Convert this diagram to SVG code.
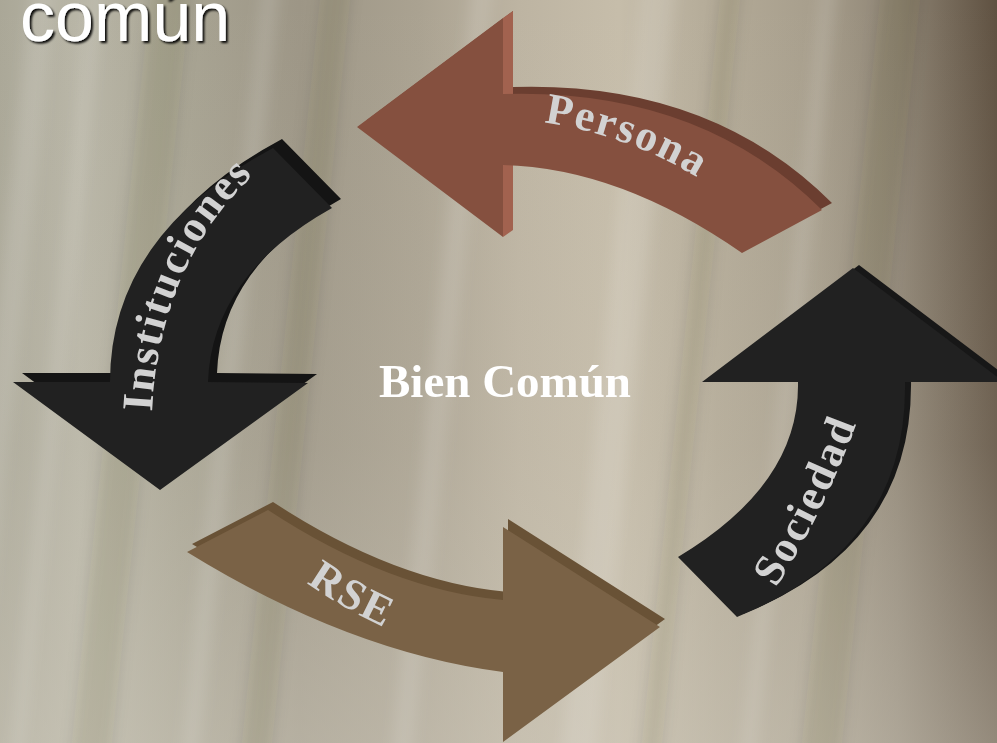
<svg xmlns="http://www.w3.org/2000/svg" width="997" height="743" viewBox="0 0 997 743">
<defs>
<linearGradient id="bg" x1="0" y1="0" x2="1" y2="0">
<stop offset="0" stop-color="#aaa797"/>
<stop offset="0.08" stop-color="#b9b6a7"/>
<stop offset="0.18" stop-color="#a8a493"/>
<stop offset="0.3" stop-color="#9d9686"/>
<stop offset="0.42" stop-color="#aaa291"/>
<stop offset="0.52" stop-color="#bdb4a2"/>
<stop offset="0.62" stop-color="#c6bdaa"/>
<stop offset="0.72" stop-color="#b3aa97"/>
<stop offset="0.82" stop-color="#a79e8c"/>
<stop offset="0.9" stop-color="#8e8474"/>
<stop offset="1" stop-color="#5f5141"/>
</linearGradient>
<linearGradient id="low" x1="0" y1="0" x2="0" y2="1">
<stop offset="0" stop-color="#d4cfc2" stop-opacity="0"/>
<stop offset="0.6" stop-color="#d4cfc2" stop-opacity="0.15"/>
<stop offset="1" stop-color="#d4cfc2" stop-opacity="0.45"/>
</linearGradient>
<filter id="soft" x="-10%" y="-10%" width="120%" height="120%">
<feGaussianBlur stdDeviation="7"/>
</filter>
<filter id="shadow" x="-10%" y="-20%" width="130%" height="150%">
<feDropShadow dx="2" dy="2" stdDeviation="1" flood-color="#000" flood-opacity="0.95"/>
</filter>
<style>
.lbl{font-family:"Liberation Serif","Times New Roman",serif;font-weight:bold;font-size:44px;fill:#d2d2d2;letter-spacing:2px}
.title{font-family:"Liberation Sans",Arial,sans-serif;font-size:70px;fill:#ffffff}
.center{font-family:"Liberation Serif","Times New Roman",serif;font-weight:bold;font-size:47px;fill:#ffffff}
.streak{fill:#ffffff;opacity:0.12}
.dstreak{fill:#3a3020;opacity:0.1}
</style>
<path id="pPersona" d="M540,122 Q650,137 740,207"/>
<path id="pInst" d="M152,412 Q160,245 282,150"/>
<path id="pSoc" d="M776,588 Q833,498 868,390"/>
<path id="pRSE" d="M292,572 Q344,612 409,638"/>
</defs>
<g id="background">
<rect width="997" height="743" fill="url(#bg)"/>
<rect width="997" height="743" fill="url(#low)"/>
<g transform="skewX(-6)" filter="url(#soft)">
<rect class="streak" x="30" y="-20" width="25" height="790"/>
<rect class="streak" x="90" y="-20" width="12" height="790"/>
<rect class="dstreak" x="150" y="-20" width="40" height="790"/>
<rect class="streak" x="260" y="-20" width="18" height="790"/>
<rect class="dstreak" x="320" y="-20" width="30" height="790"/>
<rect class="streak" x="470" y="-20" width="22" height="790"/>
<rect class="streak" x="640" y="-20" width="35" height="790"/>
<rect class="dstreak" x="720" y="-20" width="20" height="790"/>
<rect class="streak" x="820" y="-20" width="15" height="790"/>
<rect class="dstreak" x="880" y="-20" width="40" height="790"/>
</g>
</g>
<g id="title">
<text class="title" x="20" y="41" filter="url(#shadow)">común</text>
</g>
<g id="connectors">
<g id="persona">
<path d="M357,127 L503,18 L503,94 Q700,88 822,210 L742,253 Q620,168 503,165 L503,237 Z" fill="#6b3e30" transform="translate(10,-7)"/>
<polygon points="503,18 513,11 513,230 503,237" fill="#a2624f"/>
<path d="M357,127 L503,18 L503,94 Q700,88 822,210 L742,253 Q620,168 503,165 L503,237 Z" fill="#85503f"/>
<text class="lbl"><textPath href="#pPersona" startOffset="4">Persona</textPath></text>
</g>
<g id="instituciones">
<path d="M13,382 L110,382 Q110,235 273,148 L332,208 Q212,275 208,382 L308,383 L160,490 Z" fill="#141414" transform="translate(9,-9)"/>
<path d="M13,382 L110,382 Q110,235 273,148 L332,208 Q212,275 208,382 L308,383 L160,490 Z" fill="#212121"/>
<text class="lbl"><textPath href="#pInst" startOffset="0">Instituciones</textPath></text>
</g>
<g id="sociedad">
<path d="M853,268 L702,382 L798,382 Q800,484 678,557 L737,617 Q908,548 905,382 L1004,382 Z" fill="#171717" transform="translate(6,-3)"/>
<path d="M853,268 L702,382 L798,382 Q800,484 678,557 L737,617 Q908,548 905,382 L1004,382 Z" fill="#212121"/>
<text class="lbl"><textPath href="#pSoc" startOffset="0">Sociedad</textPath></text>
</g>
<g id="rse">
<path d="M268,510 Q390,590 503,600 L503,527 L660,627 L503,742 L503,672 Q349,652 187,552 Z" fill="#695236" transform="translate(5,-8)"/>
<path d="M268,510 Q390,590 503,600 L503,527 L660,627 L503,742 L503,672 Q349,652 187,552 Z" fill="#7a6246"/>
<text class="lbl"><textPath href="#pRSE" startOffset="18">RSE</textPath></text>
</g>
</g>
<g id="bien-comun">
<text class="center" x="505" y="397" text-anchor="middle">Bien Común</text>
</g>
</svg>
